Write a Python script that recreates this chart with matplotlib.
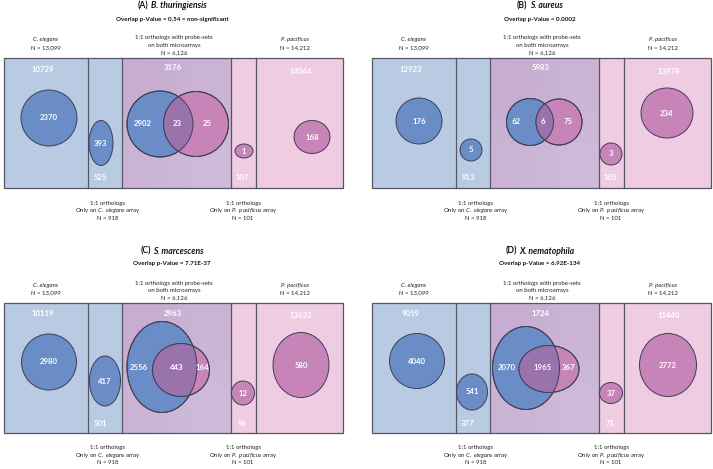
import matplotlib
matplotlib.use("Agg")
import matplotlib.pyplot as plt
from matplotlib.patches import Rectangle, Ellipse
import numpy as np

plt.rcParams['font.family'] = ['Lato', 'DejaVu Sans']
plt.rcParams['mathtext.fontset'] = 'custom'
plt.rcParams['mathtext.rm'] = 'Lato'
plt.rcParams['mathtext.it'] = 'Lato:italic'
plt.rcParams['mathtext.bf'] = 'Lato:bold'
plt.rcParams['mathtext.bfit'] = 'Lato:bold:italic'

# ---------------- data ----------------
panel_letters = ["(A)", "(B)", "(C)", "(D)"]
bacteria = ["B. thuringiensis", "S. aureus", "S. marcescens", "X. nematophila"]
pvalues = ["0.54 = non-significant", "0.0002", "7.71E-37", "6.92E-134"]

ce_total = "13,099"
both_total = "6,126"
pp_total = "14,212"
ce_only_total = "918"
pp_only_total = "101"

# counts of genes NOT regulated in each region
ce_rest = [10729, 12923, 10119, 9059]
both_rest = [3176, 5983, 2963, 1724]
pp_rest = [14044, 13978, 13632, 11440]
ce_only_rest = [525, 913, 501, 377]
pp_only_rest = [107, 105, 96, 71]

# counts of regulated genes
ce_reg = [2370, 176, 2980, 4040]
ce_only_reg = [393, 5, 417, 541]
both_ce_only = [2902, 62, 2556, 2070]
both_overlap = [23, 6, 443, 1965]
both_pp_only = [25, 75, 164, 367]
pp_only_reg = [1, 3, 12, 37]
pp_reg = [168, 234, 580, 2772]

# ---------------- layout (pixels) ----------------
W, H = 713, 469
offsets = [(0, 0), (368, 0), (0, 245), (368, 245)]
col_edges = [4, 88, 122, 231, 256, 343]
box_top, box_bot = 58, 188

# ellipse geometry per panel: (cx, cy, w, h)
geo_ce = [(49, 118, 56, 56), (51, 121, 46, 46), (49, 117, 55, 56), (49, 116, 55, 55)]
geo_conly = [(101, 143, 24, 45), (103, 150, 22, 22), (105, 136, 31, 50), (104, 147, 31, 36)]
geo_blue = [(160, 124, 66, 66), (162, 122, 47, 47), (162, 122, 70, 91), (158, 123, 67, 83)]
geo_pink = [(196, 124, 65, 65), (191, 122, 46, 46), (181, 125, 57, 53), (181, 124, 60, 47)]
geo_ponly = [(244, 151, 18, 14), (243, 154, 22, 22), (243, 148, 23, 24), (243, 148, 23, 21)]
geo_pp = [(312, 137, 36, 33), (299, 113, 52, 50), (301, 120, 56, 65), (300, 120, 57, 63)]
venn_lab_x = [(143, 177, 207), (148, 175, 200), (139, 177, 202), (139, 175, 201)]
venn_lab_y = [124, 122, 123, 122]

c_blue_bg = "#b8cbe3"
c_pink_bg = "#efcce1"
c_blue = "#6a8cc7"
c_pink = "#c784b8"
c_overlap = "#9a72ac"
c_edge = "#3f3f55"
c_frame = "#555566"

fig = plt.figure(figsize=(W / 100, H / 100), dpi=100)
ax = fig.add_axes([0, 0, 1, 1])
ax.set_xlim(0, W)
ax.set_ylim(H, 0)
ax.axis("off")
renderer = fig.canvas.get_renderer()

num_kw = dict(color="white", fontsize=5.6, fontweight="bold", ha="center", va="center", zorder=10)
lab_kw = dict(color="#222222", fontsize=4.3, ha="center", va="center")

grad = np.array([[[0.78, 0.68, 0.82], [0.795, 0.705, 0.835]],
                 [[0.795, 0.705, 0.835], [0.81, 0.73, 0.85]]])

for i, (ox, oy) in enumerate(offsets):
    e = [ox + c for c in col_edges]
    top, bot = oy + box_top, oy + box_bot
    ax.add_patch(Rectangle((e[0], top), e[2] - e[0], bot - top, fc=c_blue_bg, ec="none", zorder=1))
    ax.add_patch(Rectangle((e[3], top), e[5] - e[3], bot - top, fc=c_pink_bg, ec="none", zorder=1))
    ax.imshow(grad, extent=(e[2], e[3], bot, top), interpolation="bilinear", aspect="auto", zorder=1)
    ax.add_patch(Rectangle((e[0], top), e[5] - e[0], bot - top, fc="none", ec=c_frame, lw=0.9, zorder=3))
    for k in range(1, 5):
        ax.plot([e[k], e[k]], [top, bot], color=c_frame, lw=0.9, zorder=3)

    def ell(g, fc, z=5):
        p = Ellipse((ox + g[0], oy + g[1]), g[2], g[3], fc=fc, ec=c_edge, lw=0.7, zorder=z)
        ax.add_patch(p)
        return p

    ell(geo_ce[i], c_blue)
    ax.text(ox + geo_ce[i][0], oy + geo_ce[i][1], str(ce_reg[i]), **num_kw)
    ell(geo_conly[i], c_blue)
    ax.text(ox + geo_conly[i][0], oy + geo_conly[i][1], str(ce_only_reg[i]), **num_kw)
    b = ell(geo_blue[i], c_blue)
    ell(geo_pink[i], c_pink, z=6)
    g = geo_pink[i]
    ov = Ellipse((ox + g[0], oy + g[1]), g[2], g[3], fc=c_overlap, ec="none", zorder=7)
    ax.add_patch(ov)
    ov.set_clip_path(b)
    gb = geo_blue[i]
    ax.add_patch(Ellipse((ox + gb[0], oy + gb[1]), gb[2], gb[3], fc="none", ec=c_edge, lw=0.7, zorder=8))
    ax.add_patch(Ellipse((ox + g[0], oy + g[1]), g[2], g[3], fc="none", ec=c_edge, lw=0.7, zorder=8))
    lx = venn_lab_x[i]
    ly = oy + venn_lab_y[i]
    ax.text(ox + lx[0], ly, str(both_ce_only[i]), **num_kw)
    ax.text(ox + lx[1], ly, str(both_overlap[i]), **num_kw)
    ax.text(ox + lx[2], ly, str(both_pp_only[i]), **num_kw)
    ell(geo_ponly[i], c_pink)
    ax.text(ox + geo_ponly[i][0], oy + geo_ponly[i][1], str(pp_only_reg[i]), **num_kw)
    ell(geo_pp[i], c_pink)
    ax.text(ox + geo_pp[i][0], oy + geo_pp[i][1], str(pp_reg[i]), **num_kw)

    ax.text(ox + 43, oy + 69, str(ce_rest[i]), **num_kw)
    ax.text(ox + 173, oy + 68, str(both_rest[i]), **num_kw)
    ax.text(ox + 301, oy + 71, str(pp_rest[i]), **num_kw)
    ax.text(ox + 100, oy + 178, str(ce_only_rest[i]), **num_kw)
    ax.text(ox + 242, oy + 178, str(pp_only_rest[i]), **num_kw)

    # title made of a bold part and a bold-italic part, centred together
    tkw = dict(fontsize=6.2, fontweight="bold", va="center", color="#111111")
    t1 = ax.text(0, 0, panel_letters[i], ha="left", **tkw)
    t2 = ax.text(0, 0, bacteria[i], ha="left", style="italic", **tkw)
    w1 = t1.get_window_extent(renderer).width
    w2 = t2.get_window_extent(renderer).width
    gap = 2.5
    x0 = ox + 172 - (w1 + gap + w2) / 2
    t1.set_position((x0, oy + 6))
    t2.set_position((x0 + w1 + gap, oy + 6))
    ax.text(ox + 172, oy + 19, "Overlap p-Value = " + pvalues[i], fontsize=4.5,
            fontweight="bold", ha="center", va="center", color="#111111")

    ax.text(ox + 46, oy + 40, "C. elegans", style="italic", **lab_kw)
    ax.text(ox + 46, oy + 47.5, "N = " + ce_total, **lab_kw)
    ax.text(ox + 174, oy + 38, "1:1 orthologs with probe-sets", **lab_kw)
    ax.text(ox + 174, oy + 45.5, "on both microarrays", **lab_kw)
    ax.text(ox + 174, oy + 53, "N = " + both_total, **lab_kw)
    ax.text(ox + 295, oy + 40, "P. pacificus", style="italic", **lab_kw)
    ax.text(ox + 295, oy + 47.5, "N = " + pp_total, **lab_kw)

    ax.text(ox + 108, oy + 203, "1:1 orthologs", **lab_kw)
    ax.text(ox + 108, oy + 210.5, "$\\mathrm{Only\\ on\\ }\\mathit{C.\\ elegans}\\mathrm{\\ array}$", **lab_kw)
    ax.text(ox + 108, oy + 218, "N = " + ce_only_total, **lab_kw)
    ax.text(ox + 243, oy + 203, "1:1 orthologs", **lab_kw)
    ax.text(ox + 243, oy + 210.5, "$\\mathrm{Only\\ on\\ }\\mathit{P.\\ pacificus}\\mathrm{\\ array}$", **lab_kw)
    ax.text(ox + 243, oy + 218, "N = " + pp_only_total, **lab_kw)

ax.set_xlim(0, W)
ax.set_ylim(H, 0)

fig.savefig("out.png", dpi=100)
